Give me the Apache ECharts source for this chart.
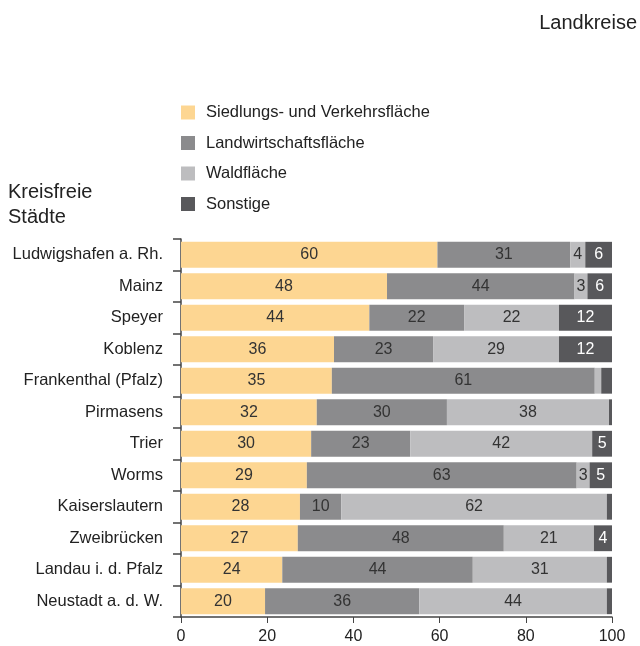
<!DOCTYPE html>
<html>
<head>
	<meta charset="UTF-8">
	<title>Flächennutzung</title>
	<script type="text/javascript" src="https://cdn.jsdelivr.net/npm/echarts@6/dist/echarts.min.js"></script>
	<style>
		html, body { margin:0; padding:0; background:#fff; }
		#chart { width:640px; height:646px; }
	</style>
</head>
<body>
<div id="chart"></div>
<script>
	// Kategorien (oben nach unten)
	var staedte = ['Ludwigshafen a. Rh.', 'Mainz', 'Speyer', 'Koblenz', 'Frankenthal (Pfalz)', 'Pirmasens',
		'Trier', 'Worms', 'Kaiserslautern', 'Zweibrücken', 'Landau i. d. Pfalz', 'Neustadt a. d. W.'];
	var siedlung = [59.5, 47.8, 43.7, 35.5, 35, 31.5, 30.2, 29.2, 27.6, 27.1, 23.5, 19.5];
	var landwirtschaft = [30.8, 43.5, 22, 23, 61, 30.2, 23, 62.6, 9.6, 47.8, 44.2, 35.8];
	var wald = [3.5, 3, 22, 29.2, 1.5, 37.6, 42.2, 3, 61.6, 20.9, 31.1, 43.5];
	var sonstige = [6.2, 5.7, 12.3, 12.3, 2.5, 0.7, 4.6, 5.2, 1.2, 4.2, 1.2, 1.2];
	var xTicks = [0, 20, 40, 60, 80, 100];

	var fontFam = '"Liberation Sans", Arial, sans-serif';

	function serie(name, data, color, textColor) {
		return {
			name: name,
			type: 'bar',
			stack: 'gesamt',
			data: data,
			barCategoryGap: '18%',
			itemStyle: { color: color },
			label: {
				show: true,
				position: 'inside',
				color: textColor,
				fontSize: 16,
				fontFamily: fontFam,
				formatter: function (p) {
					return p.value >= 2.8 ? Math.round(p.value) : '';
				}
			}
		};
	}

	var myChart = echarts.init(document.getElementById('chart'));
	var option = {
		animation: false,
		textStyle: { fontFamily: fontFam },
		title: [
			{ text: 'Landkreise', right: 3, top: 13, padding: 0, textStyle: { fontSize: 20, fontWeight: 'normal', color: '#222', fontFamily: fontFam } },
			{ text: 'Kreisfreie\nStädte', left: 8, top: 180, padding: 0, textStyle: { fontSize: 20, fontWeight: 'normal', color: '#222', lineHeight: 25, fontFamily: fontFam } }
		],
		legend: {
			orient: 'vertical',
			left: 181,
			top: 104,
			padding: 0,
			itemWidth: 14,
			itemHeight: 14,
			itemGap: 13.5,
			icon: 'rect',
			textStyle: { fontSize: 16.5, color: '#222', padding: [0, 0, 0, 6] },
			data: ['Siedlungs- und Verkehrsfläche', 'Landwirtschaftsfläche', 'Waldfläche', 'Sonstige']
		},
		grid: { left: 181, right: 28, top: 239, bottom: 29 },
		xAxis: {
			type: 'value',
			min: 0,
			max: 100,
			interval: 20,
			splitLine: { show: false },
			axisLine: { show: true, lineStyle: { color: '#444', width: 1.5 } },
			axisTick: { show: true, length: 6, lineStyle: { color: '#444' } },
			axisLabel: {
				fontSize: 16, color: '#222', margin: 12,
				formatter: function (v) { return xTicks.indexOf(v) >= 0 ? v : ''; }
			}
		},
		yAxis: {
			type: 'category',
			inverse: true,
			data: staedte,
			axisLine: { show: true, lineStyle: { color: '#444', width: 1.5 } },
			axisTick: { show: true, length: 8, lineStyle: { color: '#444', width: 1.5 } },
			axisLabel: { fontSize: 16.5, color: '#222', margin: 18 }
		},
		series: [
			serie('Siedlungs- und Verkehrsfläche', siedlung, '#fdd692', '#333'),
			serie('Landwirtschaftsfläche', landwirtschaft, '#8b8b8d', '#333'),
			serie('Waldfläche', wald, '#bdbdbf', '#333'),
			serie('Sonstige', sonstige, '#58585b', '#fff')
		]
	};
	myChart.setOption(option);
</script>
</body>
</html>
